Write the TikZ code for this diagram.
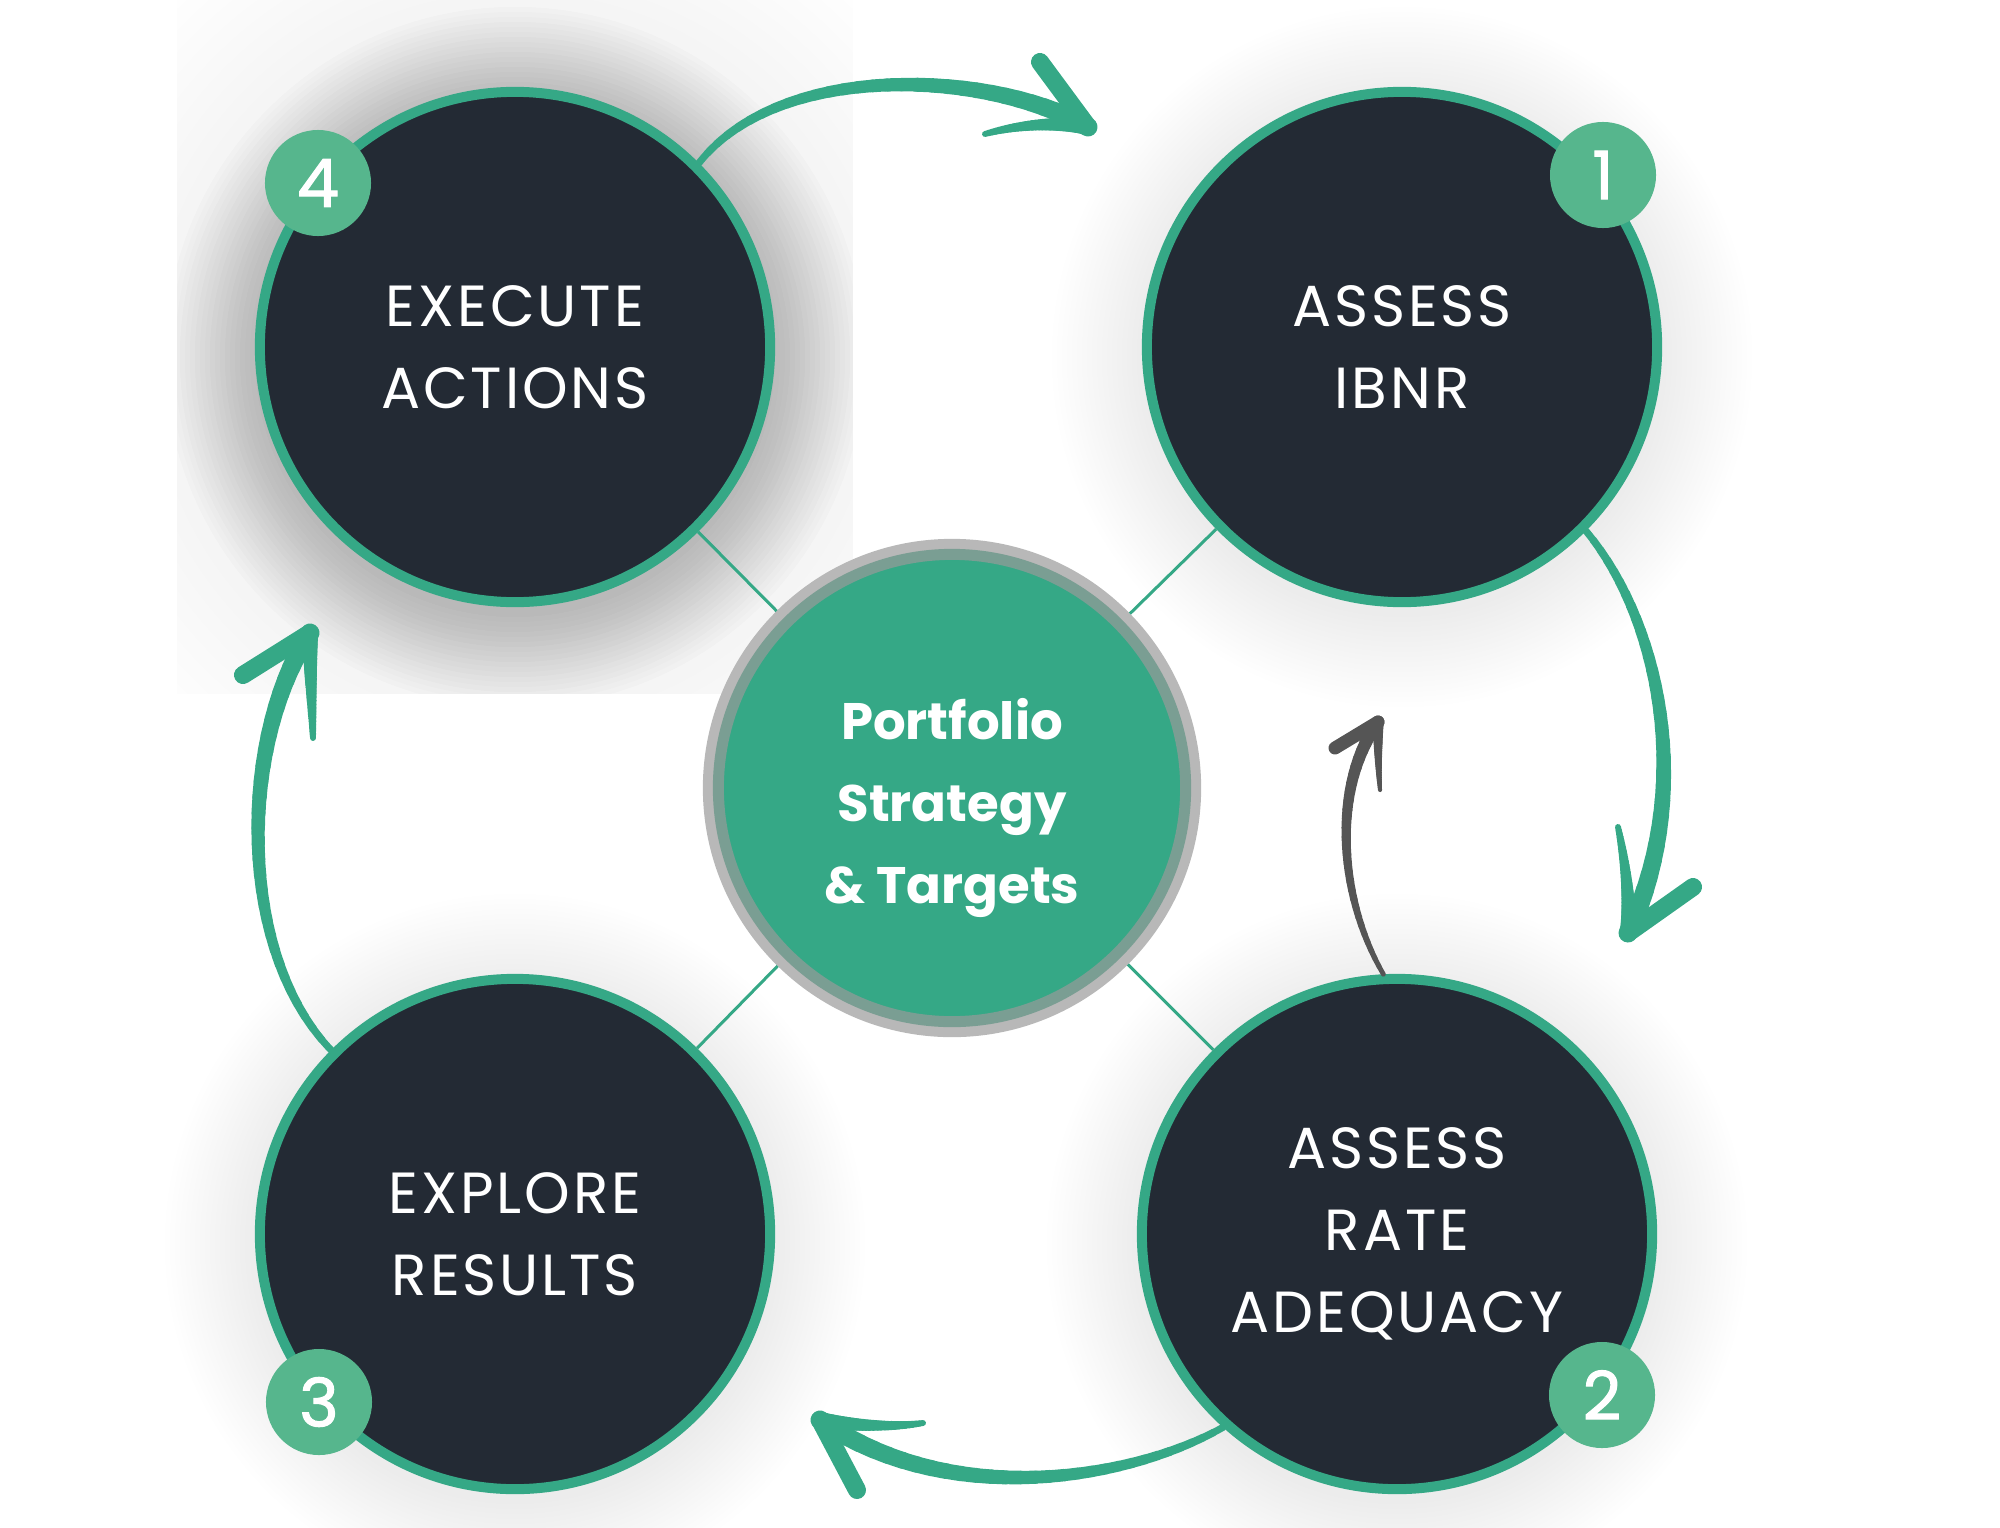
\documentclass[tikz,border=0pt]{standalone}
\usepackage{fontspec}
\setmainfont{Poppins}
\newfontfamily\stagefont[LetterSpace=5]{Poppins}
\newfontfamily\digitfont[FakeBold=1.6]{Poppins}
\usetikzlibrary{calc}
\definecolor{cycDark}{HTML}{232A34}
\definecolor{cycGreen}{HTML}{35A886}
\definecolor{cycBadge}{HTML}{56B68D}
\definecolor{cycRing}{HTML}{7A9E93}
\definecolor{cycHalo}{HTML}{B8B8B8}
\definecolor{cycGrey}{HTML}{555555}
\tikzset{
  stage/.style={
    circle, draw=cycGreen, line width=0.1cm, fill=cycDark, minimum size=5.1cm,
    inner sep=0pt, align=center, text=white, font=\stagefont\fontsize{16.5}{23.3}\selectfont},
  halo/.style={circle, fill=cycHalo, minimum size=4.98cm, inner sep=0pt, outer sep=0pt},
  hub/.style={circle, draw=cycRing, line width=0.11cm, fill=cycGreen, minimum size=4.67cm, inner sep=0pt},
  hubtext/.style={align=center, text=white, font=\bfseries\fontsize{14.6}{23.3}\selectfont},
  badge/.style={
    circle, fill=cycBadge, minimum size=1.06cm, inner sep=0pt, text=white,
    font=\digitfont\fontsize{19}{19}\selectfont},
  spoke/.style={draw=cycGreen, line width=0.03cm},
  barb/.style={line width=#1, line cap=round},
  barb/.default=0.18cm,
}
% tapered brush stroke on a Bezier: colour, widest (cm), start, control, control, end
\newcommand{\brush}[6]{%
  \path #3 coordinate (bS) #4 coordinate (bC) #5 coordinate (bD) #6 coordinate (bE);
  \foreach \k in {0,...,29}{%
    \pgfmathsetmacro{\ta}{\k/30}%
    \pgfmathsetmacro{\tb}{(\k+1)/30}%
    \pgfmathsetmacro{\lw}{#2*(0.35+0.65*\tb)}%
    \pgfsetlinewidth{\lw cm}%
    \pgfsetstrokecolor{#1}%
    \pgfsetroundcap
    \pgfpathcurvebetweentime{\ta}{\tb}{\pgfpointanchor{bS}{center}}{\pgfpointanchor{bC}{center}}%
      {\pgfpointanchor{bD}{center}}{\pgfpointanchor{bE}{center}}%
    \pgfusepath{stroke}%
  }%
}
% soft round shadow under a stage: centre, near opacity, far opacity
\newcommand{\softshadow}[3]{%
  \foreach \s in {0,5,...,90}{\fill[black, opacity=#2] ($(#1)+(0,10)$) circle [radius={2.6cm+\s*0.01cm}];}
  \foreach \s in {0,15,...,240}{\fill[black, opacity=#3] ($(#1)+(0,10)$) circle [radius={2.6cm+\s*0.01cm}];}
}

\begin{document}
\begin{tikzpicture}[x=0.01cm, y=-0.01cm]
\useasboundingbox (0,0) rectangle (2000,1527);

\coordinate (p1) at (1402,347);
\coordinate (p2) at (1397,1234);
\coordinate (p3) at (515,1234);
\coordinate (p4) at (515,347);
\coordinate (p0) at (952,788);

% shadows
\begin{scope}
  \clip (177,0) rectangle (853,693);
  \softshadow{p4}{0.011}{0.004}
\end{scope}
\foreach \p in {p1,p2,p3}{\softshadow{\p}{0.005}{0.0007}}

% centre
\node[halo] (halo) at (p0) {};
\node[hub] (hub) at (p0) {};
\node[hubtext, yshift=-0.2cm] (goal) at (hub) {Portfolio\\Strategy\\\& Targets};

% the four stages
\node[stage] (c1) at (p1) {ASSESS\\IBNR};
\node[stage] (c2) at (p2) {ASSESS\\RATE\\ADEQUACY};
\node[stage] (c3) at (p3) {EXPLORE\\RESULTS};
\node[stage] (c4) at (p4) {EXECUTE\\ACTIONS};
\foreach \c in {c1,c2,c3,c4} \draw[spoke] (halo) -- (\c);

\node[badge] (b1) at (1603,175) {1};
\node[badge] (b2) at (1602,1395) {2};
\node[badge] (b3) at (319,1402) {3};
\node[badge] (b4) at (318,183) {4};

% 4 -> 1
\coordinate (tA) at (1088,127);
\coordinate (kA) at (1040,62);
\coordinate (nA) at (985,134);
\brush{cycGreen}{0.19}{(c4.45)}{(780,60)}{(990,70)}{(tA)}
\brush{cycGreen}{0.16}{(nA)}{(1020,124)}{(1060,122)}{(tA)}
\draw[barb, cycGreen] (tA) -- (kA);

% 1 -> 2
\coordinate (tB) at (1628,933);
\coordinate (kB) at (1693,887);
\coordinate (nB) at (1618,827);
\brush{cycGreen}{0.19}{(c1.-45)}{(1660,620)}{(1695,790)}{(tB)}
\brush{cycGreen}{0.16}{(nB)}{(1625,860)}{(1630,900)}{(tB)}
\draw[barb, cycGreen] (tB) -- (kB);

% 2 -> 3
\coordinate (tC) at (820,1420);
\coordinate (kC) at (857,1490);
\coordinate (nC) at (923,1423);
\brush{cycGreen}{0.19}{(c2.228)}{(1130,1480)}{(950,1510)}{(tC)}
\brush{cycGreen}{0.16}{(nC)}{(890,1428)}{(850,1425)}{(tC)}
\draw[barb, cycGreen] (tC) -- (kC);

% 3 -> 4
\coordinate (tD) at (310,633);
\coordinate (kD) at (243,675);
\coordinate (nD) at (313,738);
\brush{cycGreen}{0.19}{(c3.135)}{(235,950)}{(240,740)}{(tD)}
\brush{cycGreen}{0.16}{(nD)}{(312,705)}{(310,670)}{(tD)}
\draw[barb, cycGreen] (tD) -- (kD);

% 2 -> centre (grey)
\coordinate (tE) at (1378,722);
\coordinate (kE) at (1335,748);
\coordinate (nE) at (1380,790);
\brush{cycGrey}{0.13}{(c2.93)}{(1340,900)}{(1330,790)}{(tE)}
\brush{cycGrey}{0.11}{(nE)}{(1378,765)}{(1378,745)}{(tE)}
\draw[barb=0.13cm, cycGrey] (tE) -- (kE);

\end{tikzpicture}
\end{document}
